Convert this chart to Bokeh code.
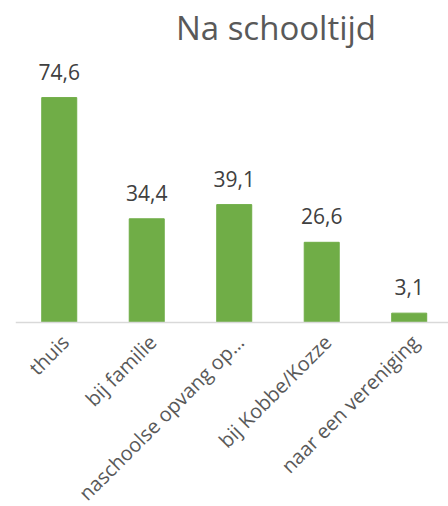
import math
from bokeh.plotting import figure
from bokeh.models import Range1d, Label, ColumnDataSource, Span
from bokeh.core.properties import value
from bokeh.embed import file_html
from bokeh.resources import INLINE

categories = ["thuis", "bij familie", "naschoolse opvang op…", "bij Kobbe/Kozze", "naar een vereniging"]
values = [74.6, 34.4, 39.1, 26.6, 3.1]
title_text = "Na schooltijd"

FONT = "Open Sans"
GREEN = "#70AD47"

xs = list(range(len(categories)))
labels = [f"{v:.1f}".replace(".", ",") for v in values]
src = ColumnDataSource(dict(x=xs, top=values, lab=labels, cat=categories, zero=[0] * len(xs)))

# frame covers the full canvas height; y=0 sits at canvas row 322 (3.015 px per unit)
p = figure(width=448, height=506, output_backend="svg", toolbar_location=None,
           x_range=Range1d(-0.5, 4.449), y_range=Range1d(-61.03, 106.8),
           min_border_left=15, min_border_right=0, min_border_top=0, min_border_bottom=0)
p.outline_line_color = None
p.background_fill_color = "white"
p.border_fill_color = "white"
p.grid.visible = False
p.xaxis.visible = False
p.yaxis.visible = False

p.vbar(x="x", top="top", bottom="zero", width=0.4, source=src, fill_color=GREEN, line_color=GREEN)

# category axis line
p.add_layout(Span(location=0, dimension="width", line_color="#D9D9D9", line_width=1.5))

# value labels
p.text(x="x", y="top", text="lab", source=src, text_align="center", text_baseline="alphabetic",
       y_offset=-26, text_font=value(FONT), text_font_size="21px", text_color="#404040")

# rotated category labels
p.text(x="x", y="zero", text="cat", source=src, angle=math.pi / 4, text_align="right",
       text_baseline="middle", x_offset=6, y_offset=16,
       text_font=value(FONT), text_font_size="20px", text_color="#595959")

p.add_layout(Label(x=2.477, y=97.8, text=title_text, text_align="center", text_baseline="alphabetic",
                   text_font=FONT, text_font_size="33px", text_color="#595959"))

open("out.html", "w").write(file_html(p, INLINE))
